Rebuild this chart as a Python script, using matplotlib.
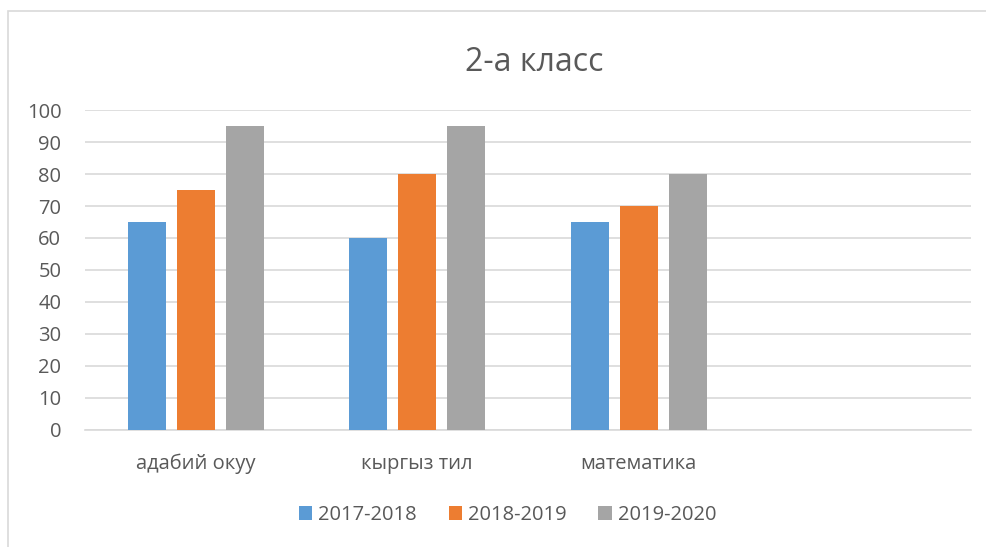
import matplotlib.pyplot as plt
import numpy as np
from matplotlib.patches import Rectangle

plt.rcParams['font.family'] = ['Open Sans', 'DejaVu Sans']

categories = ['адабий окуу', 'кыргыз тил', 'математика', '']
series_names = ['2017-2018', '2018-2019', '2019-2020']
values_2017 = [65, 60, 65, np.nan]
values_2018 = [75, 80, 70, np.nan]
values_2019 = [95, 95, 80, np.nan]
colors = ['#5B9BD5', '#ED7D31', '#A5A5A5']

fig = plt.figure(figsize=(9.87, 5.47), dpi=100)
ax = fig.add_axes([0.0861, 0.2139, 0.8977, 0.585])

# chart border (only left/top visible in the original crop)
fig.patches.append(Rectangle((8 / 987, -0.1), 1.2, 1 - 11 / 547 + 0.1,
                             transform=fig.transFigure, fill=False,
                             edgecolor='#D9D9D9', linewidth=1.2))

x = np.arange(len(categories))
w = 0.171
step = 0.221
for i, vals in enumerate([values_2017, values_2018, values_2019]):
    ax.bar(x + (i - 1) * step, vals, width=w, color=colors[i],
           label=series_names[i], zorder=3)

ax.set_xlim(-0.5, 3.5)
ax.set_ylim(0, 100)
ax.set_yticks(range(0, 101, 10))
ax.yaxis.grid(True, color='#D9D9D9', linewidth=1.2, zorder=0)
for s in ['top', 'right', 'left']:
    ax.spines[s].set_visible(False)
ax.spines['bottom'].set_color('#D9D9D9')
ax.spines['bottom'].set_linewidth(1.2)
ax.set_xticks(x)
ax.set_xticklabels(categories)
ax.tick_params(axis='both', length=0, labelsize=14.5, colors='#595959')
ax.tick_params(axis='x', pad=17)
ax.tick_params(axis='y', pad=17)

fig.text(0.541, 0.886, '2-а класс', ha='center', va='center',
         fontsize=23, color='#595959')

fig.legend(loc='center', bbox_to_anchor=(0.514, 0.058), ncol=3,
           frameon=False, fontsize=14.5, labelcolor='#595959',
           handlelength=0.65, handleheight=0.65, columnspacing=1.6,
           handletextpad=0.3)

fig.savefig('out.png', dpi=100)
